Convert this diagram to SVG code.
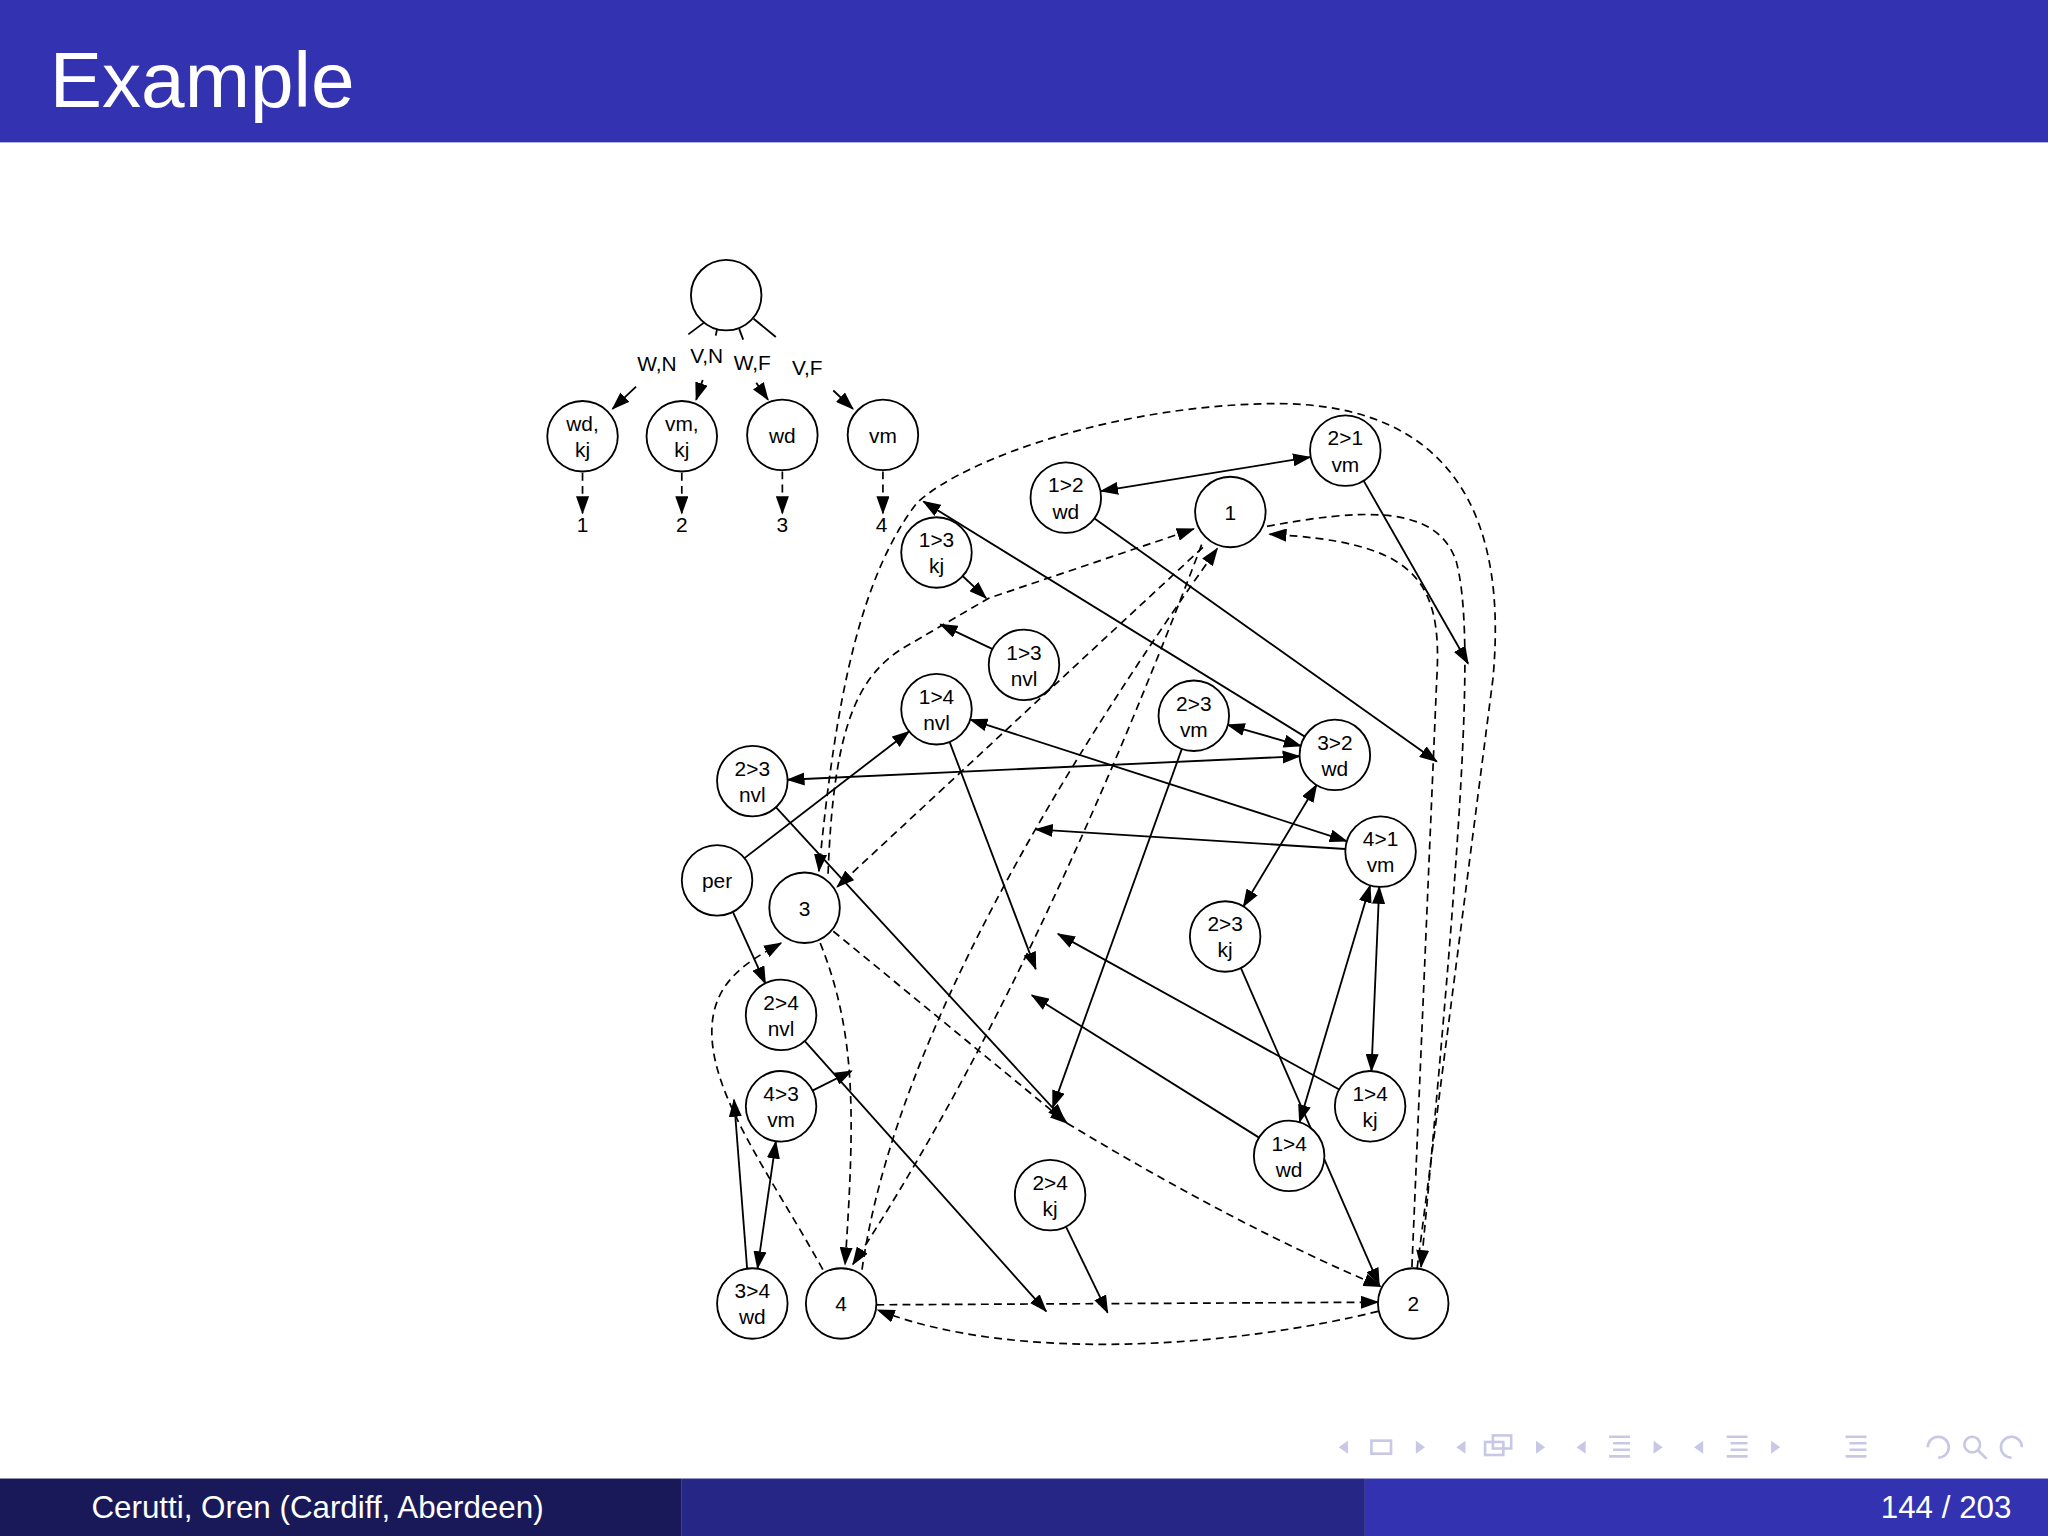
<svg xmlns="http://www.w3.org/2000/svg" width="2048" height="1536" viewBox="0 0 2048 1536">
<defs>
<marker id="ah" markerUnits="userSpaceOnUse" markerWidth="14" markerHeight="10" refX="13" refY="5" orient="auto-start-reverse"><path d="M0,0 L14,5 L0,10 z" fill="#000"/></marker>
<style>
.n circle{fill:#fff;stroke:#000;stroke-width:1.4}
.n text,.t{font-family:"Liberation Sans",Arial,sans-serif;font-size:16px;fill:#000;text-anchor:middle}
.s{stroke:#000;stroke-width:1.4;fill:none;marker-end:url(#ah)}
.b{marker-start:url(#ah)}
.d{stroke:#000;stroke-width:1.3;fill:none;stroke-dasharray:6,4;marker-end:url(#ah)}
.p{stroke:#000;stroke-width:1.4;fill:none}
.nav{fill:#c8c8e6}
</style>
</defs>
<rect width="2048" height="1536" fill="#fff"/>
<g transform="scale(1.30612)">
<rect x="0" y="0" width="1568" height="109" fill="#3333B2"/>
<text x="38" y="82" font-family="Liberation Sans,Arial,sans-serif" font-size="60" fill="#fff">Example</text>
<rect x="0" y="1132" width="522" height="44" fill="#191959"/>
<rect x="522" y="1132" width="523" height="44" fill="#262686"/>
<rect x="1045" y="1132" width="523" height="44" fill="#3333B2"/>
<text x="70" y="1162" font-family="Liberation Sans,Arial,sans-serif" font-size="24" fill="#fff">Cerutti, Oren  (Cardiff, Aberdeen)</text>
<text x="1540" y="1162" font-family="Liberation Sans,Arial,sans-serif" font-size="24" fill="#fff" text-anchor="end">144 / 203</text>
<g id="nav">
<path class="nav" d="M1032,1103 l-7,5 l7,5z M1084,1103 l7,5 l-7,5z M1122,1103 l-7,5 l7,5z M1176,1103 l7,5 l-7,5z M1214,1103 l-7,5 l7,5z M1266,1103 l7,5 l-7,5z M1304,1103 l-7,5 l7,5z M1356,1103 l7,5 l-7,5z"/>
<rect x="1050" y="1103" width="15" height="10" fill="none" stroke="#c8c8e6" stroke-width="2"/>
<rect x="1137" y="1104" width="14" height="10" fill="none" stroke="#c8c8e6" stroke-width="2"/>
<rect x="1143" y="1099" width="14" height="10" fill="none" stroke="#c8c8e6" stroke-width="2"/>
<path d="M1232,1100h16M1235,1105h13M1235,1110h13M1232,1115h16 M1322,1100h16M1325,1105h13M1325,1110h13M1322,1115h16 M1413,1100h16M1416,1105h13M1416,1110h13M1413,1115h16" stroke="#c8c8e6" stroke-width="2"/>
<path d="M1476,1108 a8,8 0 1 1 8,8 M1548,1108 a8,8 0 1 0 -8,8" fill="none" stroke="#c8c8e6" stroke-width="2"/>
<circle cx="1510" cy="1106" r="6" fill="none" stroke="#c8c8e6" stroke-width="2"/>
<path d="M1514,1110 l7,7" stroke="#c8c8e6" stroke-width="2"/>
</g>

<g id="connectors">
<!-- tree -->
<path class="p" d="M539,247 L527,256 M549,252 L548,257 M566,252 L569,260 M577,244 L594,258"/>
<path class="s" d="M487,296 L469,313"/>
<path class="s" d="M538,291 L533,306"/>
<path class="s" d="M579,293 L588,306"/>
<path class="s" d="M638,299 L653,313"/>
<path class="d" d="M446,362 L446,393"/>
<path class="d" d="M522,362 L522,393"/>
<path class="d" d="M599,361 L599,393"/>
<path class="d" d="M676,361 L676,393"/>
<text class="t" x="503" y="284">W,N</text>
<text class="t" x="541" y="278">V,N</text>
<text class="t" x="576" y="283">W,F</text>
<text class="t" x="618" y="287">V,F</text>
<text class="t" x="446" y="407">1</text>
<text class="t" x="522" y="407">2</text>
<text class="t" x="599" y="407">3</text>
<text class="t" x="675" y="407">4</text>
<!-- solid bidirectional -->
<path class="s b" d="M843,376 L1003,350"/>
<path class="s b" d="M743,551 L1031,644"/>
<path class="s b" d="M940,555 L996,571"/>
<path class="s b" d="M603,597 L995,579"/>
<path class="s b" d="M1008,601 L952,694"/>
<path class="s b" d="M1049,678 L995,859"/>
<path class="s b" d="M1056,679 L1050,820"/>
<path class="s b" d="M580,971 L594,874"/>
<!-- solid single -->
<path class="s" d="M1044,368 L1124,508"/>
<path class="s" d="M838,397 L1100,583"/>
<path class="s" d="M999,564 L707,384"/>
<path class="s" d="M737,441 L755,458"/>
<path class="s" d="M760,497 L720,478"/>
<path class="s" d="M727,568 L793,742"/>
<path class="s" d="M905,573 L806,848"/>
<path class="s" d="M594,618 L815,858"/>
<path class="s" d="M570,657 L696,560"/>
<path class="s" d="M561,698 L586,753"/>
<path class="s" d="M1030,650 L793,635"/>
<path class="s" d="M950,741 L1056,984"/>
<path class="s" d="M1025,834 L810,715"/>
<path class="s" d="M964,871 L790,762"/>
<path class="s" d="M616,797 L801,1004"/>
<path class="s" d="M816,939 L848,1005"/>
<path class="s" d="M622,835 L652,820"/>
<path class="s" d="M572,971 L562,842"/>
<!-- dashed -->
<path class="d" d="M1085,971 L1143,520 C1158,360 1080,310 980,309 C860,309 740,350 702,385 C660,440 640,530 627,667"/>
<path class="d" d="M634,669 C638,560 655,520 690,497 L757,458 L914,405"/>
<path class="d" d="M921,419 L641,679"/>
<path class="d" d="M660,972 Q690,760 932,420"/>
<path class="d" d="M920,417 Q790,760 653,968"/>
<path class="d" d="M628,722 C655,790 655,850 647,968"/>
<path class="d" d="M630,972 C590,900 545,840 545,790 C545,750 575,735 598,722"/>
<path class="d" d="M638,713 L817,860"/>
<path class="d" d="M817,860 Q950,940 1057,985"/>
<path class="d" d="M970,403 C1040,390 1100,385 1115,430 C1128,480 1123,600 1088,970"/>
<path class="d" d="M1081,970 L1100,520 C1105,440 1080,415 972,409"/>
<path class="d" d="M671,999 L1055,997"/>
<path class="d" d="M1055,1004 C950,1030 780,1045 672,1003"/>
</g>

<g id="root" class="n"><circle cx="556" cy="226" r="27"/></g>
<g id="t1" class="n"><circle cx="446" cy="334" r="27"/><text x="446" y="330">wd,</text><text x="446" y="350">kj</text></g>
<g id="t2" class="n"><circle cx="522" cy="334" r="27"/><text x="522" y="330">vm,</text><text x="522" y="350">kj</text></g>
<g id="t3" class="n"><circle cx="599" cy="333" r="27"/><text x="599" y="339">wd</text></g>
<g id="t4" class="n"><circle cx="676" cy="333" r="27"/><text x="676" y="339">vm</text></g>
<g id="n12wd" class="n"><circle cx="816" cy="381" r="27"/><text x="816" y="377">1&gt;2</text><text x="816" y="397">wd</text></g>
<g id="n21vm" class="n"><circle cx="1030" cy="345" r="27"/><text x="1030" y="341">2&gt;1</text><text x="1030" y="361">vm</text></g>
<g id="n1" class="n"><circle cx="942" cy="392" r="27"/><text x="942" y="398">1</text></g>
<g id="n13kj" class="n"><circle cx="717" cy="423" r="27"/><text x="717" y="419">1&gt;3</text><text x="717" y="439">kj</text></g>
<g id="n13nvl" class="n"><circle cx="784" cy="509" r="27"/><text x="784" y="505">1&gt;3</text><text x="784" y="525">nvl</text></g>
<g id="n14nvl" class="n"><circle cx="717" cy="543" r="27"/><text x="717" y="539">1&gt;4</text><text x="717" y="559">nvl</text></g>
<g id="n23vm" class="n"><circle cx="914" cy="548" r="27"/><text x="914" y="544">2&gt;3</text><text x="914" y="564">vm</text></g>
<g id="n32wd" class="n"><circle cx="1022" cy="578" r="27"/><text x="1022" y="574">3&gt;2</text><text x="1022" y="594">wd</text></g>
<g id="n23nvl" class="n"><circle cx="576" cy="598" r="27"/><text x="576" y="594">2&gt;3</text><text x="576" y="614">nvl</text></g>
<g id="n41vm" class="n"><circle cx="1057" cy="652" r="27"/><text x="1057" y="648">4&gt;1</text><text x="1057" y="668">vm</text></g>
<g id="per" class="n"><circle cx="549" cy="674" r="27"/><text x="549" y="680">per</text></g>
<g id="n3" class="n"><circle cx="616" cy="695" r="27"/><text x="616" y="701">3</text></g>
<g id="n23kj" class="n"><circle cx="938" cy="717" r="27"/><text x="938" y="713">2&gt;3</text><text x="938" y="733">kj</text></g>
<g id="n24nvl" class="n"><circle cx="598" cy="777" r="27"/><text x="598" y="773">2&gt;4</text><text x="598" y="793">nvl</text></g>
<g id="n43vm" class="n"><circle cx="598" cy="847" r="27"/><text x="598" y="843">4&gt;3</text><text x="598" y="863">vm</text></g>
<g id="n14kj" class="n"><circle cx="1049" cy="847" r="27"/><text x="1049" y="843">1&gt;4</text><text x="1049" y="863">kj</text></g>
<g id="n14wd" class="n"><circle cx="987" cy="885" r="27"/><text x="987" y="881">1&gt;4</text><text x="987" y="901">wd</text></g>
<g id="n24kj" class="n"><circle cx="804" cy="915" r="27"/><text x="804" y="911">2&gt;4</text><text x="804" y="931">kj</text></g>
<g id="n34wd" class="n"><circle cx="576" cy="998" r="27"/><text x="576" y="994">3&gt;4</text><text x="576" y="1014">wd</text></g>
<g id="n4" class="n"><circle cx="644" cy="998" r="27"/><text x="644" y="1004">4</text></g>
<g id="n2" class="n"><circle cx="1082" cy="998" r="27"/><text x="1082" y="1004">2</text></g>
</g>
</svg>
